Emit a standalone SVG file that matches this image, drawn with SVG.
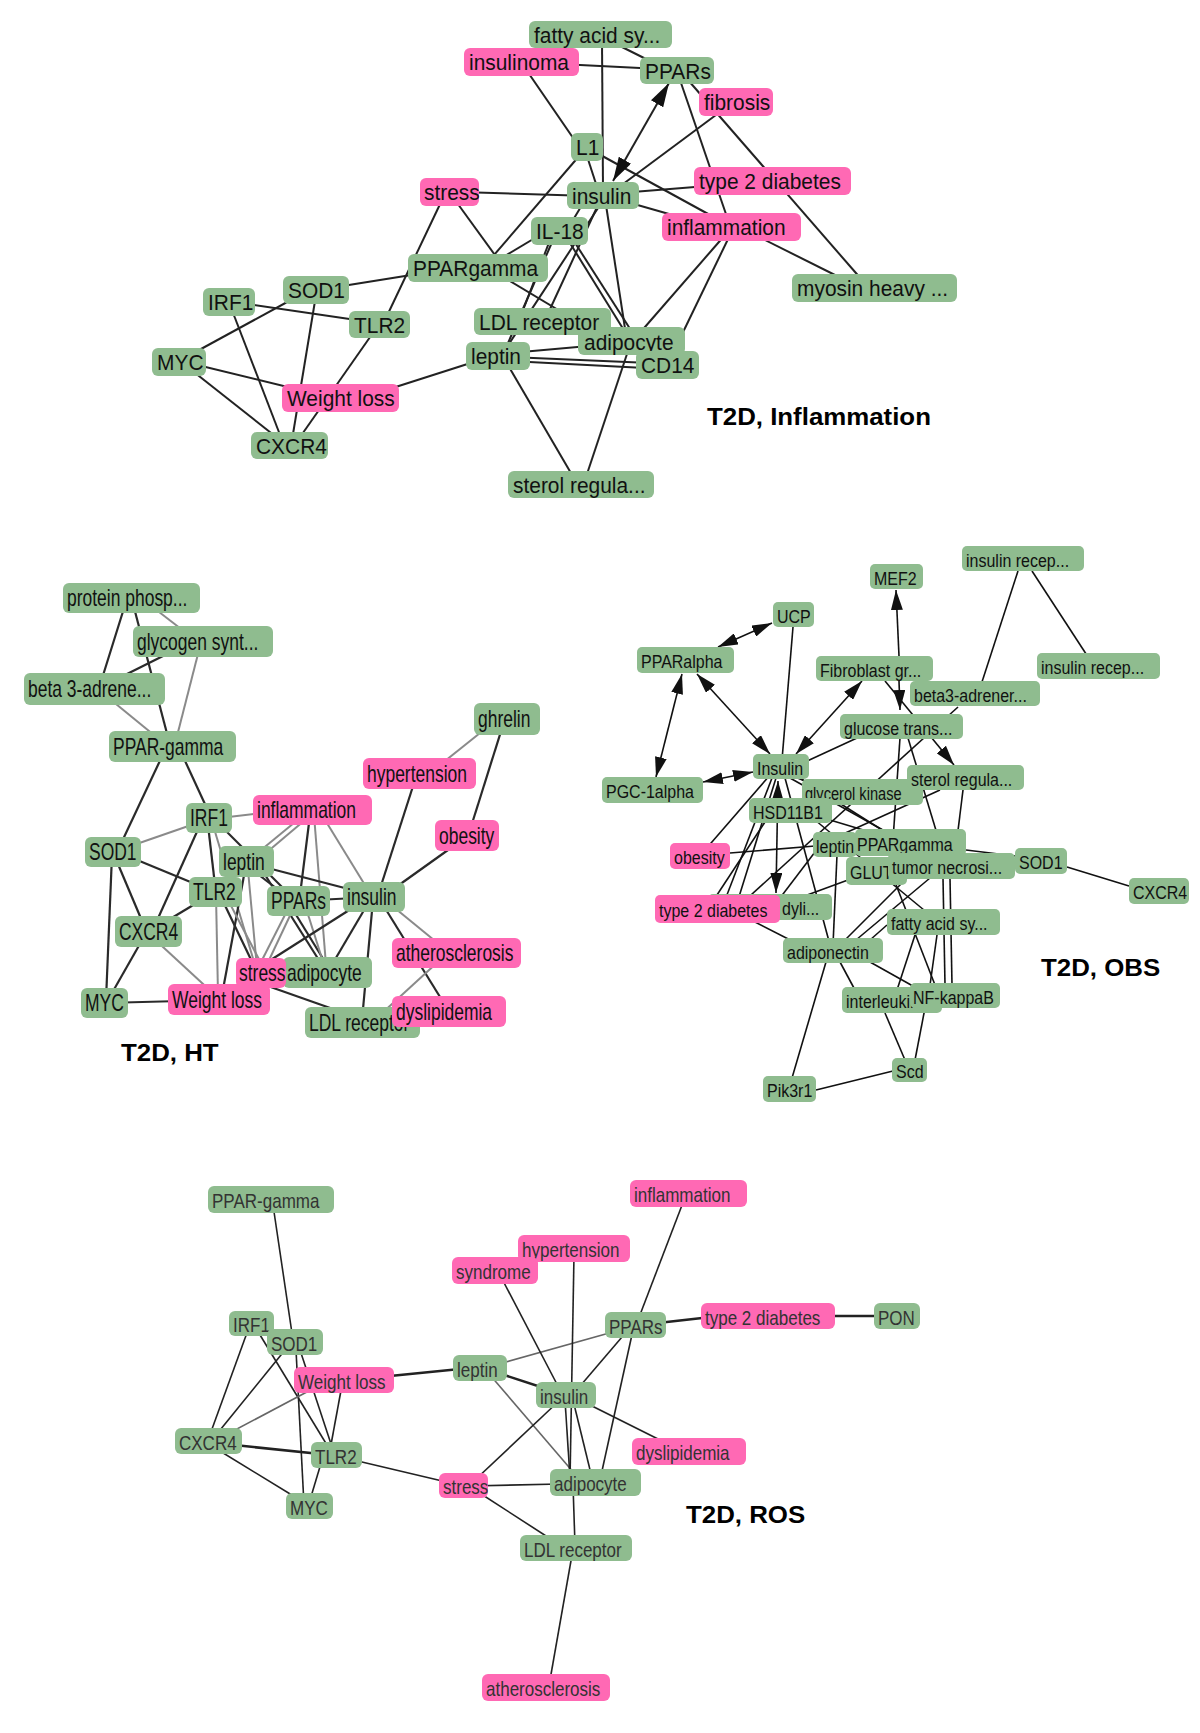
<svg xmlns="http://www.w3.org/2000/svg" width="1200" height="1733" viewBox="0 0 1200 1733">
<style>
.g{fill:#8FBC8F}
.p{fill:#FF69B4}
text{font-family:"Liberation Sans",Arial,sans-serif;fill:#111}
.t1{font-size:22.5px}
.t2{font-size:23px}
.t3{font-size:18.5px}
.t4{font-size:20.5px;fill:#333}
.lab{font-size:23.5px;font-weight:bold;fill:#000}
#e1 line{stroke:#222;stroke-width:2}
#e2 line{stroke:#2a2a2a;stroke-width:2.2}
#e2 line.gy{stroke:#8a8a8a;stroke-width:2}
#e3 line{stroke:#111;stroke-width:1.6}
#e4 line{stroke:#222;stroke-width:1.6}
#e4 line.gy{stroke:#666}
#e4 line.tk{stroke-width:2.6}
</style>
<defs>
<marker id="a1" viewBox="0 0 24 14" refX="24" refY="7" markerWidth="24" markerHeight="14" markerUnits="userSpaceOnUse" orient="auto-start-reverse"><path d="M0,0 L24,7 L0,14 z" fill="#111"/></marker>
<marker id="a3" viewBox="0 0 20 12" refX="20" refY="6" markerWidth="20" markerHeight="12" markerUnits="userSpaceOnUse" orient="auto-start-reverse"><path d="M0,0 L20,6 L0,12 z" fill="#111"/></marker>
<clipPath id="cg"><rect x="800" y="779" width="123" height="22.5"/></clipPath>
</defs>
<rect width="1200" height="1733" fill="#fff"/>

<g id="connectors">
<g id="e1">
<line x1="612" y1="42" x2="660" y2="66"/>
<line x1="602" y1="40" x2="603" y2="190"/>
<line x1="540" y1="63" x2="660" y2="69"/>
<line x1="525" y1="68" x2="580" y2="148"/>
<line x1="585" y1="150" x2="598" y2="190"/>
<line x1="595" y1="152" x2="710" y2="215"/>
<line x1="580" y1="155" x2="488" y2="262"/>
<line x1="669" y1="83" x2="613" y2="181" marker-start="url(#a1)" marker-end="url(#a1)"/>
<line x1="680" y1="80" x2="728" y2="220"/>
<line x1="688" y1="80" x2="862" y2="280"/>
<line x1="720" y1="112" x2="615" y2="190"/>
<line x1="620" y1="193" x2="720" y2="185"/>
<line x1="620" y1="200" x2="690" y2="220"/>
<line x1="460" y1="192" x2="590" y2="196"/>
<line x1="755" y1="235" x2="845" y2="280"/>
<line x1="725" y1="235" x2="638" y2="335"/>
<line x1="730" y1="235" x2="672" y2="355"/>
<line x1="585" y1="200" x2="570" y2="225"/>
<line x1="598" y1="205" x2="545" y2="320"/>
<line x1="600" y1="205" x2="505" y2="350"/>
<line x1="606" y1="205" x2="626" y2="335"/>
<line x1="545" y1="232" x2="495" y2="262"/>
<line x1="550" y1="240" x2="520" y2="318"/>
<line x1="565" y1="235" x2="630" y2="340"/>
<line x1="570" y1="235" x2="650" y2="360"/>
<line x1="553" y1="240" x2="505" y2="350"/>
<line x1="442" y1="200" x2="385" y2="320"/>
<line x1="455" y1="200" x2="500" y2="262"/>
<line x1="500" y1="275" x2="600" y2="335"/>
<line x1="330" y1="288" x2="430" y2="272"/>
<line x1="240" y1="303" x2="370" y2="322"/>
<line x1="300" y1="295" x2="190" y2="355"/>
<line x1="316" y1="295" x2="292" y2="440"/>
<line x1="230" y1="305" x2="282" y2="440"/>
<line x1="185" y1="365" x2="280" y2="440"/>
<line x1="185" y1="362" x2="300" y2="390"/>
<line x1="375" y1="330" x2="298" y2="440"/>
<line x1="380" y1="392" x2="480" y2="360"/>
<line x1="510" y1="353" x2="600" y2="345"/>
<line x1="510" y1="357" x2="650" y2="363"/>
<line x1="510" y1="361" x2="645" y2="368"/>
<line x1="505" y1="360" x2="575" y2="480"/>
<line x1="585" y1="480" x2="630" y2="345"/>
</g>
<g id="e2">
<line x1="125" y1="605" x2="100" y2="685"/>
<line x1="132" y1="600" x2="170" y2="745"/>
<line class="gy" x1="150" y1="605" x2="185" y2="632"/>
<line x1="175" y1="650" x2="115" y2="680"/>
<line class="gy" x1="199" y1="650" x2="176" y2="740"/>
<line class="gy" x1="105" y1="695" x2="160" y2="740"/>
<line x1="165" y1="750" x2="118" y2="850"/>
<line x1="180" y1="750" x2="210" y2="815"/>
<line class="gy" x1="490" y1="725" x2="440" y2="765"/>
<line x1="503" y1="725" x2="470" y2="830"/>
<line x1="415" y1="780" x2="378" y2="895"/>
<line x1="455" y1="845" x2="385" y2="895"/>
<line class="gy" x1="220" y1="818" x2="270" y2="812"/>
<line class="gy" x1="200" y1="822" x2="125" y2="848"/>
<line x1="200" y1="825" x2="155" y2="925"/>
<line x1="208" y1="825" x2="215" y2="885"/>
<line class="gy" x1="213" y1="825" x2="255" y2="965"/>
<line x1="220" y1="825" x2="290" y2="895"/>
<line class="gy" x1="300" y1="818" x2="255" y2="855"/>
<line class="gy" x1="305" y1="820" x2="260" y2="858"/>
<line x1="310" y1="815" x2="300" y2="895"/>
<line class="gy" x1="314" y1="815" x2="326" y2="965"/>
<line class="gy" x1="322" y1="815" x2="368" y2="890"/>
<line x1="125" y1="855" x2="205" y2="888"/>
<line x1="115" y1="857" x2="145" y2="928"/>
<line x1="112" y1="855" x2="106" y2="1000"/>
<line x1="260" y1="866" x2="360" y2="892"/>
<line x1="250" y1="868" x2="285" y2="895"/>
<line class="gy" x1="248" y1="870" x2="257" y2="968"/>
<line x1="245" y1="870" x2="222" y2="995"/>
<line x1="262" y1="870" x2="322" y2="965"/>
<line x1="205" y1="898" x2="160" y2="925"/>
<line class="gy" x1="216" y1="895" x2="218" y2="995"/>
<line x1="220" y1="895" x2="255" y2="968"/>
<line class="gy" x1="228" y1="900" x2="262" y2="965"/>
<line x1="298" y1="901" x2="374" y2="897"/>
<line class="gy" x1="290" y1="905" x2="258" y2="968"/>
<line class="gy" x1="295" y1="905" x2="262" y2="975"/>
<line x1="290" y1="905" x2="330" y2="970"/>
<line class="gy" x1="305" y1="905" x2="325" y2="968"/>
<line x1="365" y1="900" x2="255" y2="970"/>
<line x1="370" y1="900" x2="330" y2="968"/>
<line x1="373" y1="900" x2="362" y2="1020"/>
<line x1="380" y1="900" x2="445" y2="1005"/>
<line class="gy" x1="385" y1="900" x2="440" y2="945"/>
<line class="gy" x1="150" y1="935" x2="215" y2="995"/>
<line x1="145" y1="935" x2="108" y2="1000"/>
<line x1="104" y1="1003" x2="219" y2="1000"/>
<line x1="265" y1="985" x2="350" y2="1015"/>
<line class="gy" x1="440" y1="960" x2="380" y2="1015"/>
</g>
<g id="e3">
<line x1="718" y1="647" x2="772" y2="623" marker-start="url(#a3)" marker-end="url(#a3)"/>
<line x1="697" y1="674" x2="770" y2="754" marker-start="url(#a3)" marker-end="url(#a3)"/>
<line x1="682" y1="674" x2="656" y2="777" marker-start="url(#a3)" marker-end="url(#a3)"/>
<line x1="703" y1="782" x2="753" y2="772" marker-start="url(#a3)" marker-end="url(#a3)"/>
<line x1="796" y1="754" x2="862" y2="681" marker-start="url(#a3)" marker-end="url(#a3)"/>
<line x1="899" y1="656" x2="896" y2="590" marker-end="url(#a3)"/>
<line x1="885" y1="681" x2="954" y2="765" marker-end="url(#a3)"/>
<line x1="899" y1="681" x2="900" y2="710" marker-end="url(#a3)"/>
<line x1="778" y1="781" x2="776" y2="893" marker-start="url(#a3)" marker-end="url(#a3)"/>
<line x1="1018" y1="571" x2="981" y2="685"/>
<line x1="1032" y1="571" x2="1090" y2="660"/>
<line x1="793" y1="627" x2="782" y2="760"/>
<line x1="805" y1="762" x2="870" y2="732"/>
<line x1="958" y1="707" x2="740" y2="905"/>
<line x1="900" y1="738" x2="893" y2="840"/>
<line x1="908" y1="738" x2="945" y2="860"/>
<line x1="963" y1="790" x2="955" y2="855"/>
<line x1="940" y1="790" x2="830" y2="840"/>
<line x1="770" y1="775" x2="705" y2="850"/>
<line x1="772" y1="778" x2="725" y2="900"/>
<line x1="776" y1="778" x2="738" y2="900"/>
<line x1="790" y1="775" x2="840" y2="795"/>
<line x1="795" y1="775" x2="890" y2="835"/>
<line x1="790" y1="778" x2="940" y2="862"/>
<line x1="785" y1="778" x2="830" y2="945"/>
<line x1="830" y1="820" x2="880" y2="835"/>
<line x1="815" y1="820" x2="930" y2="915"/>
<line x1="730" y1="853" x2="815" y2="846"/>
<line x1="815" y1="852" x2="780" y2="898"/>
<line x1="837" y1="855" x2="833" y2="945"/>
<line x1="848" y1="880" x2="780" y2="905"/>
<line x1="966" y1="850" x2="1015" y2="856"/>
<line x1="1067" y1="867" x2="1129" y2="886"/>
<line x1="905" y1="880" x2="840" y2="945"/>
<line x1="930" y1="878" x2="850" y2="945"/>
<line x1="950" y1="878" x2="952" y2="985"/>
<line x1="943" y1="878" x2="945" y2="985"/>
<line x1="895" y1="882" x2="935" y2="985"/>
<line x1="755" y1="922" x2="800" y2="945"/>
<line x1="915" y1="935" x2="897" y2="990"/>
<line x1="937" y1="935" x2="930" y2="985"/>
<line x1="870" y1="962" x2="920" y2="990"/>
<line x1="840" y1="962" x2="855" y2="990"/>
<line x1="826" y1="962" x2="792" y2="1078"/>
<line x1="816" y1="1090" x2="893" y2="1071"/>
<line x1="885" y1="1013" x2="905" y2="1060"/>
<line x1="925" y1="1008" x2="915" y2="1060"/>
<line x1="765" y1="822" x2="715" y2="898"/>
<line x1="887" y1="925" x2="870" y2="940"/>
</g>
<g id="e4">
<line x1="273" y1="1205" x2="293" y2="1340"/>
<line x1="248" y1="1330" x2="208" y2="1440"/>
<line x1="285" y1="1350" x2="212" y2="1440"/>
<line x1="257" y1="1330" x2="330" y2="1450"/>
<line x1="296" y1="1350" x2="304" y2="1505"/>
<line x1="300" y1="1350" x2="333" y2="1450"/>
<line class="gy" x1="320" y1="1385" x2="220" y2="1438"/>
<line x1="342" y1="1385" x2="330" y2="1450"/>
<line class="tk" x1="215" y1="1443" x2="330" y2="1455"/>
<line x1="215" y1="1448" x2="300" y2="1500"/>
<line x1="322" y1="1460" x2="310" y2="1500"/>
<line x1="345" y1="1458" x2="455" y2="1484"/>
<line class="tk" x1="380" y1="1377" x2="470" y2="1368"/>
<line class="gy" x1="495" y1="1365" x2="620" y2="1330"/>
<line class="tk" x1="495" y1="1372" x2="550" y2="1390"/>
<line class="gy" x1="490" y1="1375" x2="580" y2="1480"/>
<line x1="500" y1="1275" x2="560" y2="1390"/>
<line x1="574" y1="1255" x2="570" y2="1480"/>
<line x1="684" y1="1200" x2="638" y2="1320"/>
<line class="tk" x1="640" y1="1325" x2="720" y2="1316"/>
<line class="tk" x1="820" y1="1316" x2="890" y2="1316"/>
<line x1="628" y1="1330" x2="575" y2="1392"/>
<line x1="633" y1="1330" x2="600" y2="1480"/>
<line x1="580" y1="1400" x2="670" y2="1445"/>
<line x1="560" y1="1400" x2="475" y2="1480"/>
<line x1="565" y1="1400" x2="570" y2="1478"/>
<line x1="573" y1="1400" x2="592" y2="1478"/>
<line x1="470" y1="1486" x2="560" y2="1484"/>
<line x1="475" y1="1490" x2="560" y2="1545"/>
<line x1="573" y1="1485" x2="575" y2="1545"/>
<line x1="572" y1="1555" x2="550" y2="1680"/>
</g>
</g>

<g id="nodes">
<g id="p1-fatty"><rect class="g" x="529" y="21" width="143" height="27" rx="6"/><text class="t1" transform="translate(534 42.5) scale(0.93 1)">fatty acid sy...</text></g>
<g id="p1-insulinoma"><rect class="p" x="464" y="48" width="115" height="28" rx="6"/><text class="t1" transform="translate(469 70) scale(0.93 1)">insulinoma</text></g>
<g id="p1-ppars"><rect class="g" x="640" y="57" width="74" height="27" rx="6"/><text class="t1" transform="translate(645 78.5) scale(0.93 1)">PPARs</text></g>
<g id="p1-fibrosis"><rect class="p" x="699" y="88" width="74" height="28" rx="6"/><text class="t1" transform="translate(704 110) scale(0.93 1)">fibrosis</text></g>
<g id="p1-l1"><rect class="g" x="571" y="133" width="32" height="28" rx="6"/><text class="t1" transform="translate(576 155) scale(0.93 1)">L1</text></g>
<g id="p1-stress"><rect class="p" x="420" y="178" width="59" height="28" rx="6"/><text class="t1" transform="translate(424 200) scale(0.93 1)">stress</text></g>
<g id="p1-insulin"><rect class="g" x="567" y="182" width="72" height="27" rx="6"/><text class="t1" transform="translate(572 203.5) scale(0.93 1)">insulin</text></g>
<g id="p1-t2d"><rect class="p" x="694" y="167" width="157" height="28" rx="6"/><text class="t1" transform="translate(699 189) scale(0.93 1)">type 2 diabetes</text></g>
<g id="p1-il18"><rect class="g" x="531" y="217" width="57" height="28" rx="6"/><text class="t1" transform="translate(536 239) scale(0.93 1)">IL-18</text></g>
<g id="p1-inflammation"><rect class="p" x="662" y="213" width="139" height="28" rx="6"/><text class="t1" transform="translate(667 235) scale(0.93 1)">inflammation</text></g>
<g id="p1-ppargamma"><rect class="g" x="408" y="254" width="140" height="28" rx="6"/><text class="t1" transform="translate(413 276) scale(0.93 1)">PPARgamma</text></g>
<g id="p1-myosin"><rect class="g" x="792" y="274" width="165" height="28" rx="6"/><text class="t1" transform="translate(797 296) scale(0.93 1)">myosin heavy ...</text></g>
<g id="p1-irf1"><rect class="g" x="203" y="288" width="52" height="28" rx="6"/><text class="t1" transform="translate(208 310) scale(0.93 1)">IRF1</text></g>
<g id="p1-sod1"><rect class="g" x="283" y="276" width="66" height="28" rx="6"/><text class="t1" transform="translate(288 298) scale(0.93 1)">SOD1</text></g>
<g id="p1-tlr2"><rect class="g" x="349" y="311" width="61" height="27" rx="6"/><text class="t1" transform="translate(354 332.5) scale(0.93 1)">TLR2</text></g>
<g id="p1-adipocyte"><rect class="g" x="578" y="327" width="107" height="28" rx="6"/><text class="t1" transform="translate(584 349.5) scale(0.93 1)">adipocyte</text></g>
<g id="p1-ldl"><rect class="g" x="474" y="308" width="137" height="27" rx="6"/><text class="t1" transform="translate(479 329.5) scale(0.93 1)">LDL receptor</text></g>
<g id="p1-cd14"><rect class="g" x="636" y="351" width="63" height="28" rx="6"/><text class="t1" transform="translate(641 373) scale(0.93 1)">CD14</text></g>
<g id="p1-myc"><rect class="g" x="152" y="348" width="54" height="28" rx="6"/><text class="t1" transform="translate(157 370) scale(0.93 1)">MYC</text></g>
<g id="p1-leptin"><rect class="g" x="466" y="342" width="64" height="28" rx="6"/><text class="t1" transform="translate(471 364) scale(0.93 1)">leptin</text></g>
<g id="p1-weightloss"><rect class="p" x="282" y="384" width="117" height="28" rx="6"/><text class="t1" transform="translate(287 406) scale(0.93 1)">Weight loss</text></g>
<g id="p1-cxcr4"><rect class="g" x="251" y="432" width="77" height="27" rx="6"/><text class="t1" transform="translate(256 453.5) scale(0.93 1)">CXCR4</text></g>
<g id="p1-sterol"><rect class="g" x="508" y="471" width="146" height="27" rx="6"/><text class="t1" transform="translate(513 492.5) scale(0.93 1)">sterol regula...</text></g>

<g id="p2-protein"><rect class="g" x="63" y="583" width="137" height="30" rx="6"/><text class="t2" transform="translate(67 606) scale(0.76 1)">protein phosp...</text></g>
<g id="p2-glycogen"><rect class="g" x="133" y="626" width="140" height="31" rx="6"/><text class="t2" transform="translate(137 649.5) scale(0.76 1)">glycogen synt...</text></g>
<g id="p2-beta3"><rect class="g" x="24" y="673" width="141" height="32" rx="6"/><text class="t2" transform="translate(28 697) scale(0.76 1)">beta 3-adrene...</text></g>
<g id="p2-ppargamma"><rect class="g" x="109" y="731" width="127" height="31" rx="6"/><text class="t2" transform="translate(113 754.5) scale(0.76 1)">PPAR-gamma</text></g>
<g id="p2-ghrelin"><rect class="g" x="474" y="703" width="66" height="32" rx="6"/><text class="t2" transform="translate(478 727) scale(0.76 1)">ghrelin</text></g>
<g id="p2-hypertension"><rect class="p" x="363" y="758" width="113" height="31" rx="6"/><text class="t2" transform="translate(367 781.5) scale(0.76 1)">hypertension</text></g>
<g id="p2-inflammation"><rect class="p" x="253" y="795" width="119" height="30" rx="6"/><text class="t2" transform="translate(257 818) scale(0.76 1)">inflammation</text></g>
<g id="p2-irf1"><rect class="g" x="186" y="803" width="46" height="30" rx="6"/><text class="t2" transform="translate(190 826) scale(0.76 1)">IRF1</text></g>
<g id="p2-obesity"><rect class="p" x="435" y="820" width="64" height="31" rx="6"/><text class="t2" transform="translate(439 843.5) scale(0.76 1)">obesity</text></g>
<g id="p2-sod1"><rect class="g" x="85" y="837" width="56" height="30" rx="6"/><text class="t2" transform="translate(89 860) scale(0.76 1)">SOD1</text></g>
<g id="p2-leptin"><rect class="g" x="219" y="846" width="55" height="31" rx="6"/><text class="t2" transform="translate(223 869.5) scale(0.76 1)">leptin</text></g>
<g id="p2-tlr2"><rect class="g" x="189" y="877" width="53" height="30" rx="6"/><text class="t2" transform="translate(193 900) scale(0.76 1)">TLR2</text></g>
<g id="p2-ppars"><rect class="g" x="267" y="886" width="63" height="30" rx="6"/><text class="t2" transform="translate(271 909) scale(0.76 1)">PPARs</text></g>
<g id="p2-insulin"><rect class="g" x="343" y="882" width="62" height="30" rx="6"/><text class="t2" transform="translate(347 905) scale(0.76 1)">insulin</text></g>
<g id="p2-cxcr4"><rect class="g" x="115" y="916" width="67" height="31" rx="6"/><text class="t2" transform="translate(119 939.5) scale(0.76 1)">CXCR4</text></g>
<g id="p2-atherosclerosis"><rect class="p" x="392" y="938" width="129" height="30" rx="6"/><text class="t2" transform="translate(396 961) scale(0.76 1)">atherosclerosis</text></g>
<g id="p2-adipocyte"><rect class="g" x="283" y="957" width="89" height="31" rx="6"/><text class="t2" transform="translate(287 980.5) scale(0.76 1)">adipocyte</text></g>
<g id="p2-stress"><rect class="p" x="236" y="958" width="50" height="30" rx="6"/><text class="t2" transform="translate(239 981) scale(0.76 1)">stress</text></g>
<g id="p2-myc"><rect class="g" x="81" y="988" width="47" height="30" rx="6"/><text class="t2" transform="translate(85 1011) scale(0.76 1)">MYC</text></g>
<g id="p2-weightloss"><rect class="p" x="168" y="984" width="102" height="31" rx="6"/><text class="t2" transform="translate(172 1007.5) scale(0.76 1)">Weight loss</text></g>
<g id="p2-ldl"><rect class="g" x="305" y="1007" width="115" height="31" rx="6"/><text class="t2" transform="translate(309 1030.5) scale(0.76 1)">LDL receptor</text></g>
<g id="p2-dyslipidemia"><rect class="p" x="392" y="996" width="114" height="31" rx="6"/><text class="t2" transform="translate(396 1019.5) scale(0.76 1)">dyslipidemia</text></g>

<g id="p3-insr1"><rect class="g" x="962" y="546" width="122" height="25" rx="5"/><text class="t3" transform="translate(966 566.5) scale(0.865 1)">insulin recep...</text></g>
<g id="p3-mef2"><rect class="g" x="870" y="564" width="53" height="25" rx="5"/><text class="t3" transform="translate(874 584.5) scale(0.865 1)">MEF2</text></g>
<g id="p3-ucp"><rect class="g" x="773" y="602" width="41" height="25" rx="5"/><text class="t3" transform="translate(777 622.5) scale(0.865 1)">UCP</text></g>
<g id="p3-ppAlpha"><rect class="g" x="637" y="647" width="97" height="26" rx="5"/><text class="t3" transform="translate(641 668) scale(0.865 1)">PPARalpha</text></g>
<g id="p3-fibroblast"><rect class="g" x="816" y="656" width="117" height="25" rx="5"/><text class="t3" transform="translate(820 676.5) scale(0.865 1)">Fibroblast gr...</text></g>
<g id="p3-insr2"><rect class="g" x="1037" y="653" width="123" height="26" rx="5"/><text class="t3" transform="translate(1041 674) scale(0.865 1)">insulin recep...</text></g>
<g id="p3-beta3"><rect class="g" x="910" y="681" width="130" height="25" rx="5"/><text class="t3" transform="translate(914 701.5) scale(0.865 1)">beta3-adrener...</text></g>
<g id="p3-glucose"><rect class="g" x="840" y="714" width="123" height="25" rx="5"/><text class="t3" transform="translate(844 734.5) scale(0.865 1)">glucose trans...</text></g>
<g id="p3-insulin"><rect class="g" x="753" y="754" width="56" height="25" rx="5"/><text class="t3" transform="translate(757 774.5) scale(0.865 1)">Insulin</text></g>
<g id="p3-glycerol"><rect class="g" x="802" y="779" width="121" height="26" rx="5"/><g clip-path="url(#cg)"><text class="t3" transform="translate(805 800) scale(0.79 1)">glycerol kinase</text></g></g>
<g id="p3-sterol"><rect class="g" x="907" y="765" width="117" height="25" rx="5"/><text class="t3" transform="translate(911 785.5) scale(0.865 1)">sterol regula...</text></g>
<g id="p3-pgc"><rect class="g" x="602" y="777" width="101" height="26" rx="5"/><text class="t3" transform="translate(606 798) scale(0.865 1)">PGC-1alpha</text></g>
<g id="p3-hsd"><rect class="g" x="749" y="798" width="83" height="25" rx="5"/><text class="t3" transform="translate(753 818.5) scale(0.865 1)">HSD11B1</text></g>
<g id="p3-obesity"><rect class="p" x="670" y="843" width="60" height="26" rx="5"/><text class="t3" transform="translate(674 864) scale(0.865 1)">obesity</text></g>
<g id="p3-leptin"><rect class="g" x="813" y="832" width="44" height="25" rx="5"/><text class="t3" transform="translate(816 852.5) scale(0.865 1)">leptin</text></g>
<g id="p3-ppargamma"><rect class="g" x="855" y="829" width="111" height="27" rx="5"/><text class="t3" transform="translate(857 850.5) scale(0.865 1)">PPARgamma</text></g>
<g id="p3-glut"><rect class="g" x="846" y="857" width="61" height="28" rx="5"/><text class="t3" transform="translate(850 879) scale(0.865 1)">GLUT</text></g>
<g id="p3-tumor"><rect class="g" x="888" y="853" width="127" height="26" rx="5"/><text class="t3" transform="translate(892 874) scale(0.865 1)">tumor necrosi...</text></g>
<g id="p3-sod1"><rect class="g" x="1015" y="848" width="52" height="26" rx="5"/><text class="t3" transform="translate(1019 869) scale(0.865 1)">SOD1</text></g>
<g id="p3-cxcr4"><rect class="g" x="1129" y="878" width="60" height="26" rx="5"/><text class="t3" transform="translate(1133 899) scale(0.865 1)">CXCR4</text></g>
<g id="p3-dyli"><rect class="g" x="708" y="894" width="124" height="26" rx="5"/><text class="t3" transform="translate(782 915) scale(0.865 1)">dyli...</text></g>
<g id="p3-t2d"><rect class="p" x="655" y="895" width="125" height="28" rx="5"/><text class="t3" transform="translate(659 917) scale(0.865 1)">type 2 diabetes</text></g>
<g id="p3-fatty"><rect class="g" x="887" y="909" width="113" height="26" rx="5"/><text class="t3" transform="translate(891 930) scale(0.865 1)">fatty acid sy...</text></g>
<g id="p3-adiponectin"><rect class="g" x="783" y="938" width="100" height="25" rx="5"/><text class="t3" transform="translate(787 958.5) scale(0.865 1)">adiponectin</text></g>
<g id="p3-interleukin"><rect class="g" x="842" y="987" width="100" height="26" rx="5"/><text class="t3" transform="translate(846 1008) scale(0.865 1)">interleukin</text></g>
<g id="p3-nfkb"><rect class="g" x="910" y="983" width="90" height="25" rx="5"/><text class="t3" transform="translate(913 1003.5) scale(0.865 1)">NF-kappaB</text></g>
<g id="p3-scd"><rect class="g" x="892" y="1058" width="35" height="24" rx="5"/><text class="t3" transform="translate(896 1078) scale(0.865 1)">Scd</text></g>
<g id="p3-pik3r1"><rect class="g" x="763" y="1076" width="53" height="26" rx="5"/><text class="t3" transform="translate(767 1097) scale(0.865 1)">Pik3r1</text></g>

<g id="p4-ppargamma"><rect class="g" x="208" y="1186" width="126" height="27" rx="6"/><text class="t4" transform="translate(212 1208) scale(0.83 1)">PPAR-gamma</text></g>
<g id="p4-inflammation"><rect class="p" x="630" y="1180" width="117" height="27" rx="6"/><text class="t4" transform="translate(634 1202) scale(0.83 1)">inflammation</text></g>
<g id="p4-hypertension"><rect class="p" x="518" y="1235" width="112" height="27" rx="6"/><text class="t4" transform="translate(522 1257) scale(0.83 1)">hypertension</text></g>
<g id="p4-syndrome"><rect class="p" x="452" y="1257" width="86" height="27" rx="6"/><text class="t4" transform="translate(456 1279) scale(0.83 1)">syndrome</text></g>
<g id="p4-ppars"><rect class="g" x="605" y="1312" width="61" height="26" rx="6"/><text class="t4" transform="translate(609 1333.5) scale(0.83 1)">PPARs</text></g>
<g id="p4-t2d"><rect class="p" x="701" y="1303" width="134" height="26" rx="6"/><text class="t4" transform="translate(705 1324.5) scale(0.83 1)">type 2 diabetes</text></g>
<g id="p4-pon"><rect class="g" x="874" y="1303" width="46" height="26" rx="6"/><text class="t4" transform="translate(878 1324.5) scale(0.83 1)">PON</text></g>
<g id="p4-irf1"><rect class="g" x="229" y="1311" width="45" height="25" rx="6"/><text class="t4" transform="translate(233 1332) scale(0.83 1)">IRF1</text></g>
<g id="p4-sod1"><rect class="g" x="267" y="1329" width="56" height="26" rx="6"/><text class="t4" transform="translate(271 1350.5) scale(0.83 1)">SOD1</text></g>
<g id="p4-weightloss"><rect class="p" x="294" y="1367" width="100" height="26" rx="6"/><text class="t4" transform="translate(298 1388.5) scale(0.83 1)">Weight loss</text></g>
<g id="p4-leptin"><rect class="g" x="453" y="1355" width="54" height="26" rx="6"/><text class="t4" transform="translate(457 1376.5) scale(0.83 1)">leptin</text></g>
<g id="p4-insulin"><rect class="g" x="536" y="1382" width="60" height="26" rx="6"/><text class="t4" transform="translate(540 1403.5) scale(0.83 1)">insulin</text></g>
<g id="p4-cxcr4"><rect class="g" x="175" y="1428" width="67" height="26" rx="6"/><text class="t4" transform="translate(179 1449.5) scale(0.83 1)">CXCR4</text></g>
<g id="p4-tlr2"><rect class="g" x="311" y="1442" width="51" height="26" rx="6"/><text class="t4" transform="translate(315 1463.5) scale(0.83 1)">TLR2</text></g>
<g id="p4-dyslipidemia"><rect class="p" x="632" y="1438" width="114" height="27" rx="6"/><text class="t4" transform="translate(636 1460) scale(0.83 1)">dyslipidemia</text></g>
<g id="p4-stress"><rect class="p" x="439" y="1473" width="49" height="25" rx="6"/><text class="t4" transform="translate(443 1494) scale(0.83 1)">stress</text></g>
<g id="p4-adipocyte"><rect class="g" x="550" y="1469" width="91" height="27" rx="6"/><text class="t4" transform="translate(554 1491) scale(0.83 1)">adipocyte</text></g>
<g id="p4-myc"><rect class="g" x="286" y="1493" width="47" height="26" rx="6"/><text class="t4" transform="translate(290 1514.5) scale(0.83 1)">MYC</text></g>
<g id="p4-ldl"><rect class="g" x="520" y="1535" width="112" height="26" rx="6"/><text class="t4" transform="translate(524 1556.5) scale(0.83 1)">LDL receptor</text></g>
<g id="p4-atherosclerosis"><rect class="p" x="482" y="1674" width="128" height="27" rx="6"/><text class="t4" transform="translate(486 1696) scale(0.83 1)">atherosclerosis</text></g>
</g>

<g id="labels">
<text class="lab" transform="translate(707 425) scale(1.1 1)">T2D, Inflammation</text>
<text class="lab" transform="translate(121 1061) scale(1.1 1)">T2D, HT</text>
<text class="lab" transform="translate(1041 976) scale(1.1 1)">T2D, OBS</text>
<text class="lab" transform="translate(686 1523) scale(1.1 1)">T2D, ROS</text>
</g>
</svg>
